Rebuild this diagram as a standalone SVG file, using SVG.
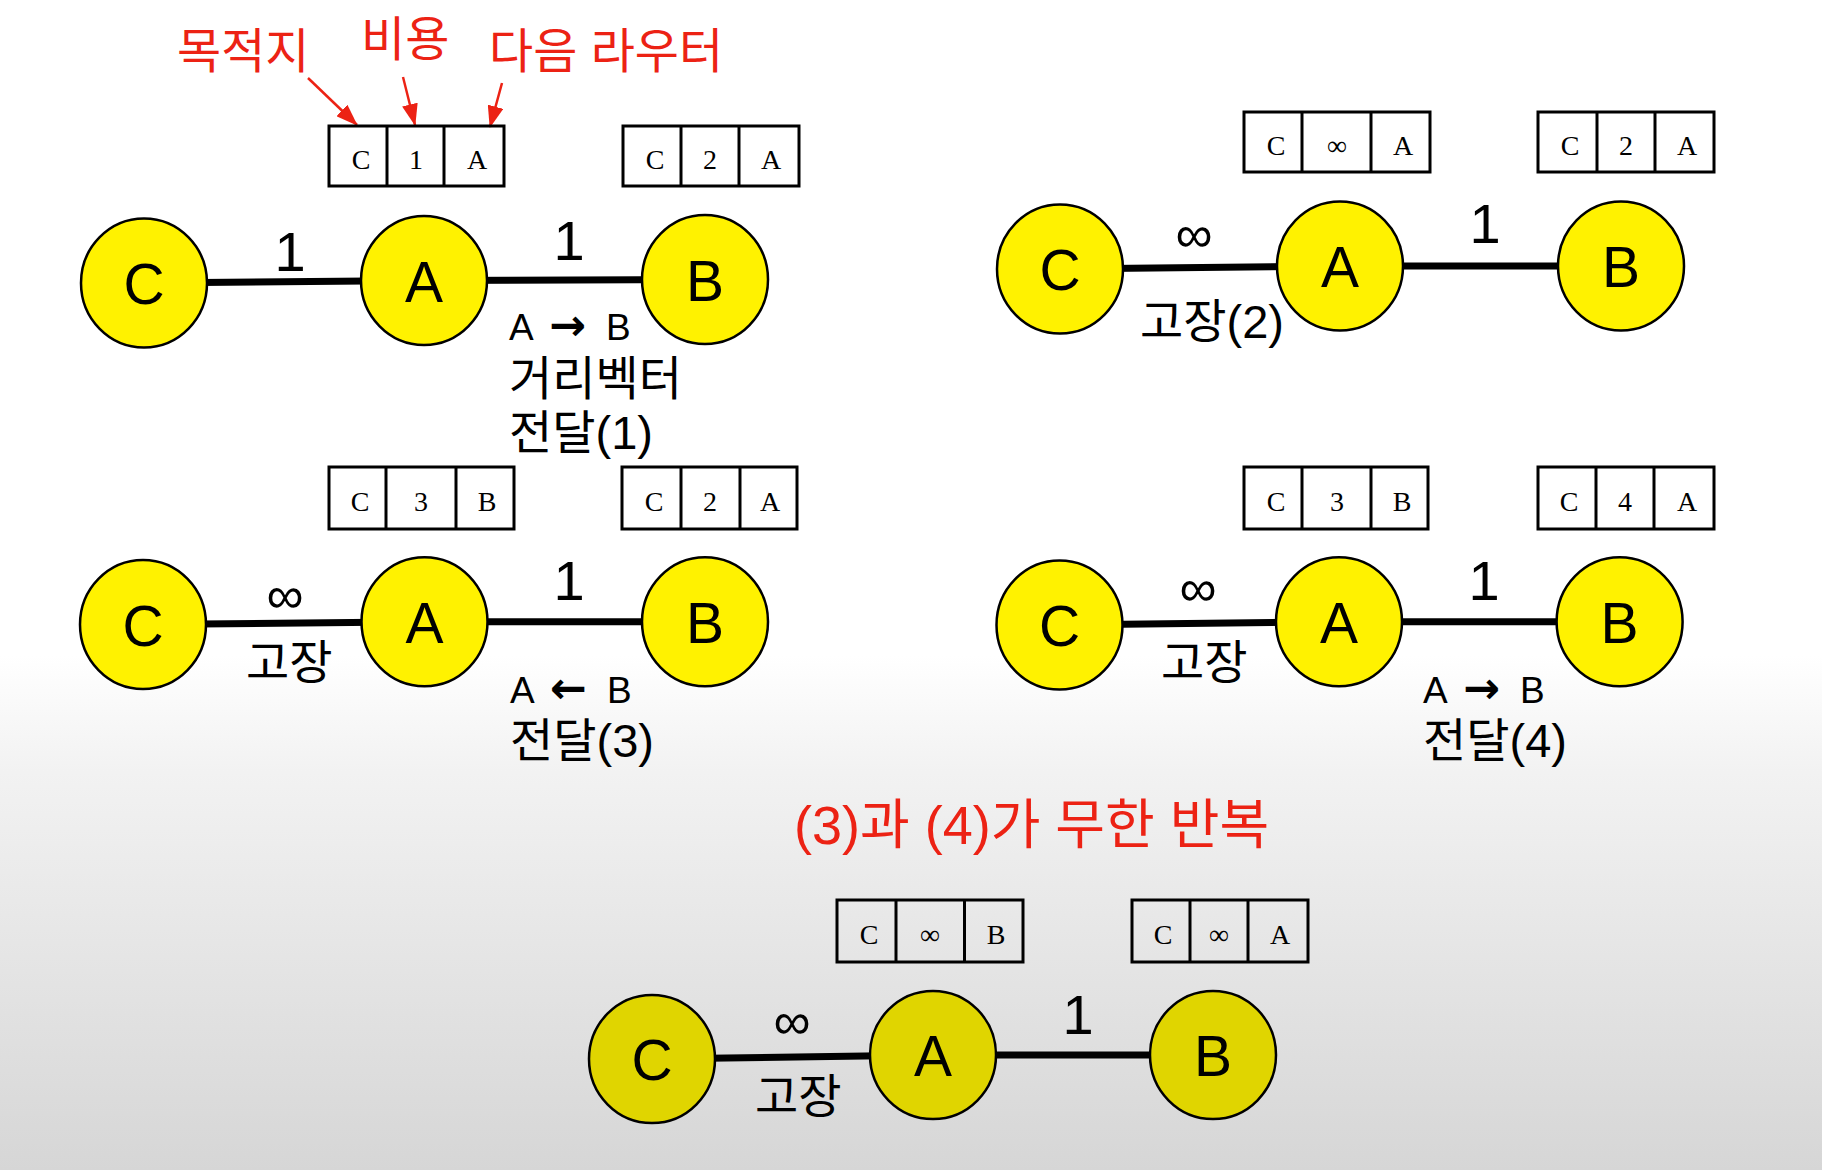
<svg xmlns="http://www.w3.org/2000/svg" width="1822" height="1170" viewBox="0 0 1822 1170">
<defs>
<linearGradient id="bg" x1="0" y1="0" x2="0" y2="1170" gradientUnits="userSpaceOnUse">
<stop offset="0" stop-color="#ffffff"/>
<stop offset="0.56" stop-color="#ffffff"/>
<stop offset="0.66" stop-color="#f2f2f2"/>
<stop offset="1" stop-color="#d6d6d6"/>
</linearGradient>
<marker id="rarrow" viewBox="0 0 22 16" refX="21" refY="8" markerWidth="22" markerHeight="16" markerUnits="userSpaceOnUse" orient="auto">
<path d="M0,0 L22,8 L0,16 Z" fill="#ec2214"/>
</marker>
<style>
.node{fill:#fff200;stroke:#000;stroke-width:2.5}
.node5{fill:#e0d500;stroke:#000;stroke-width:2.5}
.nl{font-family:"Liberation Sans",Arial,sans-serif;font-size:57px;fill:#000;text-anchor:middle}
.edge{stroke:#000;stroke-width:7;fill:none}
.el{font-family:"Liberation Sans",Arial,sans-serif;font-size:56px;fill:#000;text-anchor:middle}
.inf{font-family:"Liberation Sans",Arial,sans-serif;font-size:52px;fill:#000;text-anchor:middle}
.lab{font-family:"Liberation Sans","Noto Sans CJK KR",sans-serif;font-size:47px;fill:#000}
.ab{font-family:"Liberation Sans","DejaVu Sans",sans-serif;font-size:37px;fill:#000}
.arr{font-family:"DejaVu Sans",sans-serif;font-weight:bold;font-size:44px}
.red{font-family:"Liberation Sans","Noto Sans CJK KR",sans-serif;font-size:48px;fill:#ec2214}
.redbig{font-family:"Liberation Sans","Noto Sans CJK KR",sans-serif;font-size:54px;fill:#ec2214}
.tbl{fill:none;stroke:#000;stroke-width:3}
.tt{font-family:"Liberation Serif","Times New Roman",serif;font-size:28px;fill:#000;text-anchor:middle}
.rl{stroke:#ec2214;stroke-width:2.5;fill:none}
</style>
</defs>
<rect x="0" y="0" width="1822" height="1170" fill="url(#bg)"/>

<!-- annotations -->
<g id="annotations">
<text class="red" x="177" y="68">목적지</text>
<text class="red" x="361" y="56">비용</text>
<text class="red" x="489" y="68">다음 라우터</text>
<line class="rl" x1="308" y1="78" x2="357" y2="125" marker-end="url(#rarrow)"/>
<line class="rl" x1="403" y1="77" x2="415" y2="125" marker-end="url(#rarrow)"/>
<line class="rl" x1="502" y1="83" x2="490" y2="127" marker-end="url(#rarrow)"/>
<text class="redbig" x="794" y="844">(3)과 (4)가 무한 반복</text>
</g>

<!-- connectors -->
<g id="connectors">
<line class="edge" x1="144" y1="283" x2="424" y2="280.5"/>
<line class="edge" x1="424" y1="280.5" x2="705" y2="279.5"/>
<line class="edge" x1="1060" y1="269" x2="1340" y2="266"/>
<line class="edge" x1="1340" y1="266" x2="1621" y2="266"/>
<line class="edge" x1="143" y1="624.5" x2="424.5" y2="621.7"/>
<line class="edge" x1="424.5" y1="621.7" x2="705" y2="621.7"/>
<line class="edge" x1="1059.5" y1="625" x2="1339" y2="621.7"/>
<line class="edge" x1="1339" y1="621.7" x2="1619.6" y2="621.7"/>
<line class="edge" x1="652" y1="1059" x2="933" y2="1055"/>
<line class="edge" x1="933" y1="1055" x2="1213" y2="1055"/>
</g>

<!-- edge labels -->
<g id="edge-labels">
<text class="el" x="290" y="271">1</text>
<text class="el" x="569" y="260">1</text>
<text class="inf" x="1194" y="252">∞</text>
<text class="el" x="1485" y="243">1</text>
<text class="inf" x="285" y="613">∞</text>
<text class="el" x="569" y="600">1</text>
<text class="inf" x="1198" y="606">∞</text>
<text class="el" x="1484" y="600">1</text>
<text class="inf" x="792" y="1039">∞</text>
<text class="el" x="1078" y="1034">1</text>
</g>

<!-- panel 1 -->
<g id="p1-C"><ellipse class="node" cx="144" cy="283" rx="63" ry="64.5"/><text class="nl" x="144" y="304">C</text></g>
<g id="p1-A"><ellipse class="node" cx="424" cy="280.5" rx="63" ry="64.5"/><text class="nl" x="424" y="301.5">A</text></g>
<g id="p1-B"><ellipse class="node" cx="705" cy="279.5" rx="63" ry="64.5"/><text class="nl" x="705" y="300.5">B</text></g>
<g id="p1-tableA">
<rect class="tbl" x="329" y="126" width="175" height="60"/>
<line class="tbl" x1="387" y1="126" x2="387" y2="186"/><line class="tbl" x1="444" y1="126" x2="444" y2="186"/>
<text class="tt" x="361" y="169">C</text><text class="tt" x="416" y="169">1</text><text class="tt" x="477" y="169">A</text>
</g>
<g id="p1-tableB">
<rect class="tbl" x="623" y="126" width="176" height="60"/>
<line class="tbl" x1="681" y1="126" x2="681" y2="186"/><line class="tbl" x1="739" y1="126" x2="739" y2="186"/>
<text class="tt" x="655" y="169">C</text><text class="tt" x="710" y="169">2</text><text class="tt" x="771" y="169">A</text>
</g>
<g id="p1-note">
<text class="ab" y="340"><tspan x="509">A</tspan><tspan class="arr" x="549">→</tspan><tspan x="606">B</tspan></text>
<text class="lab" x="509" y="395">거리벡터</text>
<text class="lab" x="509" y="449">전달(1)</text>
</g>

<!-- panel 2 -->
<g id="p2-C"><ellipse class="node" cx="1060" cy="269" rx="63" ry="64.5"/><text class="nl" x="1060" y="290">C</text></g>
<g id="p2-A"><ellipse class="node" cx="1340" cy="266" rx="63" ry="64.5"/><text class="nl" x="1340" y="287">A</text></g>
<g id="p2-B"><ellipse class="node" cx="1621" cy="266" rx="63" ry="64.5"/><text class="nl" x="1621" y="287">B</text></g>
<g id="p2-tableA">
<rect class="tbl" x="1244" y="112" width="186" height="60"/>
<line class="tbl" x1="1302" y1="112" x2="1302" y2="172"/><line class="tbl" x1="1371" y1="112" x2="1371" y2="172"/>
<text class="tt" x="1276" y="155">C</text><text class="tt" x="1337" y="155">∞</text><text class="tt" x="1403" y="155">A</text>
</g>
<g id="p2-tableB">
<rect class="tbl" x="1538" y="112" width="176" height="60"/>
<line class="tbl" x1="1597" y1="112" x2="1597" y2="172"/><line class="tbl" x1="1655" y1="112" x2="1655" y2="172"/>
<text class="tt" x="1570" y="155">C</text><text class="tt" x="1626" y="155">2</text><text class="tt" x="1687" y="155">A</text>
</g>
<g id="p2-note"><text class="lab" x="1140" y="338">고장(2)</text></g>

<!-- panel 3 -->
<g id="p3-C"><ellipse class="node" cx="143" cy="624.5" rx="63" ry="64.5"/><text class="nl" x="143" y="645.5">C</text></g>
<g id="p3-A"><ellipse class="node" cx="424.5" cy="621.7" rx="63" ry="64.5"/><text class="nl" x="424.5" y="642.7">A</text></g>
<g id="p3-B"><ellipse class="node" cx="705" cy="621.7" rx="63" ry="64.5"/><text class="nl" x="705" y="642.7">B</text></g>
<g id="p3-tableA">
<rect class="tbl" x="329" y="467" width="185" height="62"/>
<line class="tbl" x1="386" y1="467" x2="386" y2="529"/><line class="tbl" x1="456" y1="467" x2="456" y2="529"/>
<text class="tt" x="360" y="511">C</text><text class="tt" x="421" y="511">3</text><text class="tt" x="487" y="511">B</text>
</g>
<g id="p3-tableB">
<rect class="tbl" x="622" y="467" width="175" height="62"/>
<line class="tbl" x1="681" y1="467" x2="681" y2="529"/><line class="tbl" x1="740" y1="467" x2="740" y2="529"/>
<text class="tt" x="654" y="511">C</text><text class="tt" x="710" y="511">2</text><text class="tt" x="770" y="511">A</text>
</g>
<g id="p3-note">
<text class="lab" x="246" y="679">고장</text>
<text class="ab" y="703"><tspan x="510">A</tspan><tspan class="arr" x="550">←</tspan><tspan x="607">B</tspan></text>
<text class="lab" x="510" y="757">전달(3)</text>
</g>

<!-- panel 4 -->
<g id="p4-C"><ellipse class="node" cx="1059.5" cy="625" rx="63" ry="64.5"/><text class="nl" x="1059.5" y="646">C</text></g>
<g id="p4-A"><ellipse class="node" cx="1339" cy="621.7" rx="63" ry="64.5"/><text class="nl" x="1339" y="642.7">A</text></g>
<g id="p4-B"><ellipse class="node" cx="1619.6" cy="621.7" rx="63" ry="64.5"/><text class="nl" x="1619.6" y="642.7">B</text></g>
<g id="p4-tableA">
<rect class="tbl" x="1244" y="467" width="184" height="62"/>
<line class="tbl" x1="1302" y1="467" x2="1302" y2="529"/><line class="tbl" x1="1371" y1="467" x2="1371" y2="529"/>
<text class="tt" x="1276" y="511">C</text><text class="tt" x="1337" y="511">3</text><text class="tt" x="1402" y="511">B</text>
</g>
<g id="p4-tableB">
<rect class="tbl" x="1538" y="467" width="176" height="62"/>
<line class="tbl" x1="1596" y1="467" x2="1596" y2="529"/><line class="tbl" x1="1654" y1="467" x2="1654" y2="529"/>
<text class="tt" x="1569" y="511">C</text><text class="tt" x="1625" y="511">4</text><text class="tt" x="1687" y="511">A</text>
</g>
<g id="p4-note">
<text class="lab" x="1161" y="679">고장</text>
<text class="ab" y="703"><tspan x="1423">A</tspan><tspan class="arr" x="1463">→</tspan><tspan x="1520">B</tspan></text>
<text class="lab" x="1423" y="757">전달(4)</text>
</g>

<!-- panel 5 -->
<g id="p5-C"><ellipse class="node5" cx="652" cy="1059" rx="63" ry="64"/><text class="nl" x="652" y="1080">C</text></g>
<g id="p5-A"><ellipse class="node5" cx="933" cy="1055" rx="63" ry="64"/><text class="nl" x="933" y="1076">A</text></g>
<g id="p5-B"><ellipse class="node5" cx="1213" cy="1055" rx="63" ry="64"/><text class="nl" x="1213" y="1076">B</text></g>
<g id="p5-tableA">
<rect class="tbl" x="837" y="900" width="186" height="62"/>
<line class="tbl" x1="896" y1="900" x2="896" y2="962"/><line class="tbl" x1="964.5" y1="900" x2="964.5" y2="962"/>
<text class="tt" x="869" y="944">C</text><text class="tt" x="930" y="944">∞</text><text class="tt" x="996" y="944">B</text>
</g>
<g id="p5-tableB">
<rect class="tbl" x="1132" y="900" width="176" height="62"/>
<line class="tbl" x1="1190" y1="900" x2="1190" y2="962"/><line class="tbl" x1="1248" y1="900" x2="1248" y2="962"/>
<text class="tt" x="1163" y="944">C</text><text class="tt" x="1219" y="944">∞</text><text class="tt" x="1280" y="944">A</text>
</g>
<g id="p5-note"><text class="lab" x="755" y="1113">고장</text></g>
</svg>
